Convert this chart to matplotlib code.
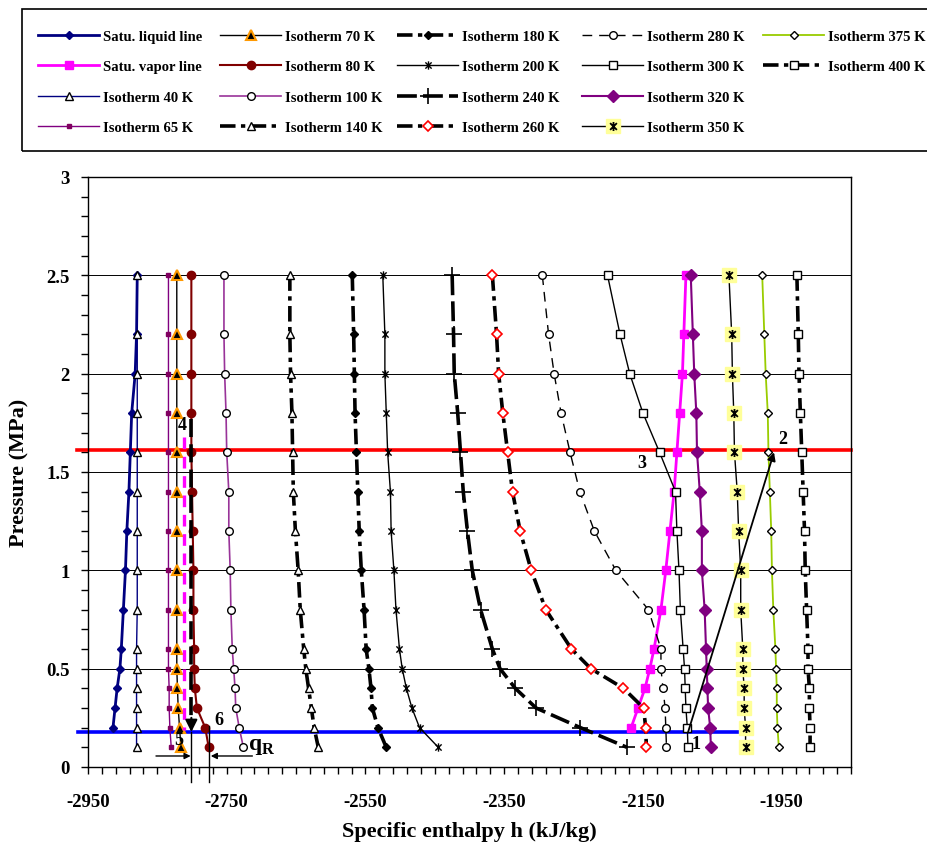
import matplotlib
matplotlib.use("Agg")
import matplotlib.pyplot as plt
import numpy as np
from matplotlib.lines import Line2D
from matplotlib.patches import Rectangle
from matplotlib.path import Path
from matplotlib.legend_handler import HandlerTuple
from matplotlib.ticker import FixedLocator

plt.rcParams['font.family'] = ['Liberation Serif', 'DejaVu Serif']
plt.rcParams['font.weight'] = 'bold'
plt.rcParams['axes.unicode_minus'] = False
plt.rcParams['mathtext.fontset'] = 'custom'
plt.rcParams['mathtext.bf'] = 'Liberation Serif:bold'
plt.rcParams['mathtext.rm'] = 'Liberation Serif:bold'

# pressure levels (MPa)
P = [2.5, 2.2, 2.0, 1.8, 1.6, 1.4, 1.2, 1.0, 0.8, 0.6, 0.5, 0.4, 0.3, 0.2, 0.1]
P_sat = [2.5, 2.2, 2.0, 1.8, 1.6, 1.4, 1.2, 1.0, 0.8, 0.6, 0.5, 0.4, 0.3, 0.2]

# specific enthalpy (kJ/kg)
h_liq = [-2879, -2880, -2882, -2887, -2889, -2891, -2894, -2896, -2899, -2902, -2904, -2908, -2911, -2914]
h_vap = [-2088, -2091, -2093, -2097, -2101, -2105, -2111, -2117, -2124, -2134, -2140, -2147, -2157, -2167]
h_40 = [-2879, -2879, -2879, -2879, -2879, -2879, -2879, -2879, -2879, -2880, -2880, -2880, -2880, -2880, -2880]
h_65 = [-2834, -2834, -2834, -2834, -2834, -2834, -2834, -2834, -2834, -2834, -2834, -2833, -2833, -2832, -2830]
h_70 = [-2822, -2822, -2822, -2822, -2822, -2822, -2822, -2822, -2822, -2822, -2822, -2821, -2820, -2818, -2816]
h_80 = [-2801, -2801, -2801, -2801, -2801, -2800, -2799, -2798, -2798, -2797, -2797, -2796, -2793, -2781, -2776]
h_100 = [-2754, -2754, -2753, -2751, -2750, -2747, -2747, -2745, -2744, -2742, -2740, -2738, -2737, -2732, -2726]
h_140 = [-2659, -2659, -2658, -2656, -2655, -2654, -2651, -2647, -2644, -2639, -2636, -2632, -2628, -2624, -2618]
h_180 = [-2569, -2567, -2566, -2565, -2563, -2561, -2559, -2556, -2552, -2549, -2545, -2542, -2540, -2532, -2520]
h_200 = [-2525, -2522, -2522, -2520, -2518, -2514, -2513, -2509, -2506, -2501, -2497, -2491, -2483, -2472, -2445]
h_240 = [-2425, -2423, -2422, -2417, -2413, -2409, -2403, -2396, -2384, -2367, -2356, -2334, -2304, -2240, -2173]
h_260 = [-2367, -2361, -2358, -2352, -2345, -2338, -2327, -2311, -2290, -2253, -2225, -2178, -2149, -2146, -2145]
h_280 = [-2295, -2286, -2278, -2268, -2255, -2241, -2220, -2189, -2142, -2124, -2124, -2121, -2118, -2117, -2116]
h_300 = [-2201, -2183, -2169, -2150, -2126, -2103, -2101, -2098, -2096, -2092, -2090, -2089, -2088, -2086, -2085]
h_320 = [-2081, -2078, -2076, -2073, -2072, -2068, -2065, -2065, -2061, -2059, -2058, -2057, -2056, -2053, -2052]
h_350 = [-2026, -2022, -2021, -2019, -2018, -2014, -2012, -2009, -2009, -2006, -2006, -2004, -2004, -2002, -2002]
h_375 = [-1978, -1975, -1973, -1970, -1969, -1967, -1965, -1964, -1962, -1959, -1958, -1957, -1957, -1956, -1954]
h_400 = [-1928, -1926, -1925, -1923, -1921, -1919, -1917, -1916, -1914, -1912, -1912, -1910, -1910, -1909, -1909]

# refrigeration cycle
p_high = 1.61
p_low = 0.178
h_1, h_2 = -2085, -1961
h_5, h_6 = -2801, -2775
h_4_vap = -2812
cycle_labels = ['1', '2', '3', '4', '5', '6']
label_h = [-2073, -1948, -2151, -2814, -2819, -2761]
label_p = [0.12, 1.67, 1.55, 1.74, 0.14, 0.24]

fig = plt.figure(figsize=(9.28, 8.45), dpi=100)
ax = fig.add_axes([88/928, 1-768/845, 763/928, 590/845])

dashdot = (0, (4.3, 1.5, 1.2, 1.5))
# Excel style star: vertical bar plus a cross
star = Path([(0, -1), (0, 1), (-0.75, -0.75), (0.75, 0.75), (-0.75, 0.75), (0.75, -0.75)],
            [Path.MOVETO, Path.LINETO, Path.MOVETO, Path.LINETO, Path.MOVETO, Path.LINETO])

ax.axhline(p_high, xmin=-0.015, xmax=1.0, color='#FF0000', lw=2.6, zorder=1.5, clip_on=False)
ax.plot([-2965, -2002], [p_low, p_low], color='#0000FF', lw=2.6, zorder=1.5, clip_on=False)

series = []
series.append(ax.plot(h_liq, P_sat, color='#000080', lw=2, marker='D', ms=4.5, mfc='#000080', mec='#000080', label='Satu. liquid line')[0])
series.append(ax.plot(h_vap, P_sat, color='#FF00FF', lw=2, marker='s', ms=5.5, mfc='#FF00FF', mec='#FF00FF', label='Satu. vapor line')[0])
series.append(ax.plot(h_40, P, color='#000080', lw=1, marker='^', ms=6, mfc='white', mec='black', label='Isotherm 40 K')[0])
series.append(ax.plot(h_65, P, color='#800080', lw=1, marker='s', ms=3.5, mfc='#800060', mec='#800060', label='Isotherm 65 K')[0])
series.append(ax.plot(h_70, P, color='black', lw=1, marker='^', ms=6.5, mfc='black', mec='#FF9900', mew=1.5, label='Isotherm 70 K')[0])
series.append(ax.plot(h_80, P, color='#800000', lw=1.5, marker='o', ms=6, mfc='#800000', mec='#800000', label='Isotherm 80 K')[0])
series.append(ax.plot(h_100, P, color='#993399', lw=1.2, marker='o', ms=5.5, mfc='white', mec='black', label='Isotherm 100 K')[0])
series.append(ax.plot(h_140, P, color='black', lw=2.6, ls=dashdot, marker='^', ms=6, mfc='white', mec='black', label='Isotherm 140 K')[0])
series.append(ax.plot(h_180, P, color='black', lw=2.6, ls=dashdot, marker='D', ms=4.5, mfc='black', mec='black', label='Isotherm 180 K')[0])
series.append(ax.plot(h_200, P, color='black', lw=1, marker=star, ms=6, mew=1, mec='black', label='Isotherm 200 K')[0])
series.append(ax.plot(h_240, P, color='black', lw=2.6, ls=(0, (5.5, 1.7)), marker='+', ms=12, mew=1.2, mec='black', label='Isotherm 240 K')[0])
series.append(ax.plot(h_260, P, color='black', lw=2.6, ls=dashdot, marker='D', ms=5, mfc='white', mec='#FF0000', mew=1.2, label='Isotherm 260 K')[0])
series.append(ax.plot(h_280, P, color='black', lw=1, ls=(0, (7, 5)), marker='o', ms=5.5, mfc='white', mec='black', label='Isotherm 280 K')[0])
series.append(ax.plot(h_300, P, color='black', lw=1, marker='s', ms=5.5, mfc='white', mec='black', label='Isotherm 300 K')[0])
series.append(ax.plot(h_320, P, color='#800080', lw=1.5, marker='D', ms=6, mfc='#800080', mec='#800080', label='Isotherm 320 K')[0])
l350 = ax.plot(h_350, P, color='black', lw=1, marker='s', ms=9.5, mfc='#FFFF99', mec='#FFFF99')[0]
l350b = ax.plot(h_350, P, ls='none', marker=star, ms=6.5, mec='black', mew=1.3)[0]
series.append(ax.plot(h_375, P, color='#99CC00', lw=1.3, marker='D', ms=4.5, mfc='white', mec='black', label='Isotherm 375 K')[0])
series.append(ax.plot(h_400, P, color='black', lw=2.6, ls=dashdot, marker='s', ms=5.5, mfc='white', mec='black', label='Isotherm 400 K')[0])

# cycle sketch
ax.annotate('', xy=(h_2, 1.60), xytext=(h_1, 0.176),
            arrowprops=dict(arrowstyle='-|>', color='black', lw=1.3, mutation_scale=12, shrinkA=0, shrinkB=0))
ax.plot([h_4_vap, h_4_vap], [1.68, 0.19], color='#FF00FF', lw=2.4, ls=(0, (3.5, 2.3)), zorder=3)
ax.plot([h_5, h_5], [1.77, 0.22], color='black', lw=2.6, ls=(0, (5, 2)), zorder=3)
ax.annotate('', xy=(h_5, p_low), xytext=(h_5, 0.25),
            arrowprops=dict(arrowstyle='-|>', color='black', lw=1.5, mutation_scale=18, shrinkA=0, shrinkB=0), zorder=4)
ax.plot([h_5, h_5], [p_low, -0.076], color='black', lw=1, clip_on=False, zorder=3)
ax.plot([h_6, h_6], [0.208, -0.076], color='black', lw=1, clip_on=False, zorder=3)
ax.annotate('', xy=(-2802, 0.056), xytext=(-2852, 0.056),
            arrowprops=dict(arrowstyle='-|>', color='black', lw=1, mutation_scale=9, shrinkA=0, shrinkB=0))
ax.annotate('', xy=(-2773, 0.056), xytext=(-2713, 0.056),
            arrowprops=dict(arrowstyle='-|>', color='black', lw=1, mutation_scale=9, shrinkA=0, shrinkB=0))
for s, hx, py in zip(cycle_labels, label_h, label_p):
    ax.text(hx, py, s, fontsize=13, fontweight='bold', ha='center', va='center', zorder=5)
ax.text(-2700, 0.11, r'$\mathbf{q}_{\mathbf{R}}$', fontsize=17, ha='center', va='center', zorder=5)

ax.set_xlim(-2950, -1850)
ax.set_ylim(0, 3)
ax.xaxis.set_major_locator(FixedLocator(np.arange(-2950, -1849, 200)))
ax.xaxis.set_minor_locator(FixedLocator(np.arange(-2950, -1849, 20)))
ax.yaxis.set_major_locator(FixedLocator(np.arange(0, 3.01, 0.5)))
ax.yaxis.set_minor_locator(FixedLocator(np.arange(0, 3.01, 0.1)))
ax.set_yticklabels(['0', '0.5', '1', '1.5', '2', '2.5', '3'])
ax.tick_params(axis='both', which='both', direction='out', length=5, width=1, labelsize=13.5)
ax.tick_params(axis='x', pad=14)
ax.tick_params(axis='y', pad=8)
for lab in ax.get_xticklabels() + ax.get_yticklabels():
    lab.set_fontweight('bold')
ax.grid(axis='y', which='major', color='black', lw=0.7)
ax.set_axisbelow(True)
for sp in ax.spines.values():
    sp.set_linewidth(1)
ax.set_xlabel('Specific enthalpy h (kJ/kg)', fontsize=16, fontweight='bold', labelpad=8)
ax.set_ylabel('Pressure (MPa)', fontsize=16, fontweight='bold', labelpad=12)

# legend box
fig.patches.append(Rectangle((22/928, 1-152/845), 1.0, 142/845, transform=fig.transFigure,
                             fill=False, ec='black', lw=1.2, clip_on=False))
handles = series[:15] + [(l350, l350b)] + series[15:]
labels = [h.get_label() if not isinstance(h, tuple) else 'Isotherm 350 K' for h in handles]
col_x = [38, 220, 397, 582, 763]
for i, cx in enumerate(col_x):
    hs = handles[4*i:4*i+4]
    ls_ = labels[4*i:4*i+4]
    fig.legend(hs, ls_, loc='upper left', bbox_to_anchor=(cx/928, 1-31/845), frameon=False,
               prop={'family': 'Liberation Serif', 'weight': 'bold', 'size': 10.5},
               handlelength=4.2, handletextpad=0.25, labelspacing=1.17, borderpad=0, borderaxespad=0,
               handler_map={tuple: HandlerTuple(ndivide=1)})

fig.savefig('out.png', dpi=100)
